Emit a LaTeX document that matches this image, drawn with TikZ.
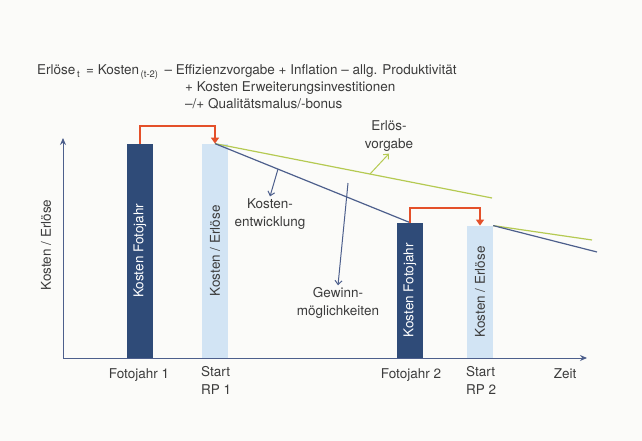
\documentclass[tikz,border=0pt]{standalone}
\usepackage{fontspec}
\setmainfont{TeX Gyre Heros}
\usepackage{tikz}
\usetikzlibrary{arrows.meta}

\definecolor{navy}{HTML}{2F4B78}
\definecolor{paleblue}{HTML}{D2E4F4}
\definecolor{linkred}{HTML}{E4502A}
\definecolor{lime}{HTML}{B5CA52}
\definecolor{costblue}{HTML}{4D5F8C}
\definecolor{txt}{HTML}{3C3C3C}
\definecolor{paper}{HTML}{FBFBF9}

\begin{document}
\begin{tikzpicture}[x=1pt, y=-1pt, font=\fontsize{13.5}{18}\selectfont, text=txt,
    darkbar/.style={fill=navy, text=white, rotate=90, anchor=west, minimum height=26pt, inner sep=0pt},
    lightbar/.style={fill=paleblue, text=txt, rotate=90, anchor=west, minimum height=26pt, inner sep=0pt},
    redlink/.style={color=linkred, line width=2pt, -{Triangle[length=6pt, width=8pt]}},
    costline/.style={draw=costblue, line width=1.2pt},
    revline/.style={draw=lime, line width=1.2pt},
    note/.style={align=center, inner sep=2pt},
    pointer/.style={line width=1pt, -{Straight Barb[length=4pt, width=7pt]}}]
    \fill[paper] (0,0) rectangle (642,441);

    % formula
    \node[anchor=base west, inner sep=0pt] (f1) at (37,75) {Erlöse\textsubscript{\,t}\, = Kosten\textsubscript{\,(t-2)}\, – Effizienzvorgabe + Inflation – allg. Produktivität};
    \node[anchor=base west, inner sep=0pt] (f2) at (185,92) {+ Kosten Erweiterungsinvestitionen};
    \node[anchor=base west, inner sep=0pt] (f3) at (185,109) {–/+ Qualitätsmalus/-bonus};

    % axes
    \coordinate (o) at (63,358);
    \coordinate (ytop) at (63,138);
    \coordinate (xend) at (587,358);
    \draw[costblue, line width=1pt, {Stealth[length=7pt, width=6pt]}-{Stealth[length=7pt, width=6pt]}] (ytop) |- (xend);
    \node[rotate=90] (ylab) at (46,245) {Kosten / Erlöse};

    % bars
    \node[darkbar, minimum width=214pt] (b1) at (140,358) {Kosten Fotojahr};
    \node[lightbar, minimum width=214pt] (b2) at (215,358) {Kosten / Erlöse};
    \node[darkbar, minimum width=135pt] (b3) at (410,358) {Kosten Fotojahr};
    \node[lightbar, minimum width=132pt] (b4) at (480,358) {Kosten / Erlöse};

    % time labels
    \node[anchor=base] (fj1) at (139,378) {Fotojahr 1};
    \node[anchor=north west, align=left, inner sep=0pt] (rp1) at (201,366) {Start\\RP 1};
    \node[anchor=base] (fj2) at (411,378) {Fotojahr 2};
    \node[anchor=north west, align=left, inner sep=0pt] (rp2) at (466,366) {Start\\RP 2};
    \node[anchor=base] (zeit) at (565,378) {Zeit};

    % revenue and cost paths
    \coordinate (g1) at (492,198);
    \coordinate (g2) at (592,240);
    \coordinate (c2) at (597,252);
    \draw[revline] (b2.east) -- (g1);
    \draw[costline] (b2.east) -- (b3.east);
    \draw[revline] (b4.south east) -- (g2);
    \draw[costline] (b4.south east) -- (c2);

    % carry over
    \draw[redlink] (b1.east) -- ++(0,-18) -| (b2.east);
    \draw[redlink] (b3.east) -- ++(0,-15) -| (b4.east);

    % notes
    \node[note] (erl) at (389,136) {Erlös-\\vorgabe};
    \node[note] (kost) at (270,214) {Kosten-\\entwicklung};
    \node[note] (gew) at (338,303) {Gewinn-\\möglichkeiten};
    \coordinate (ec) at (370,174);
    \coordinate (kc) at (278,169);
    \coordinate (gc) at (348,183);
    \draw[pointer, lime] (ec) -- (erl.south);
    \draw[pointer, costblue] (kc) -- (kost.north);
    \draw[pointer, costblue] (gc) -- (gew.north);
\end{tikzpicture}
\end{document}
